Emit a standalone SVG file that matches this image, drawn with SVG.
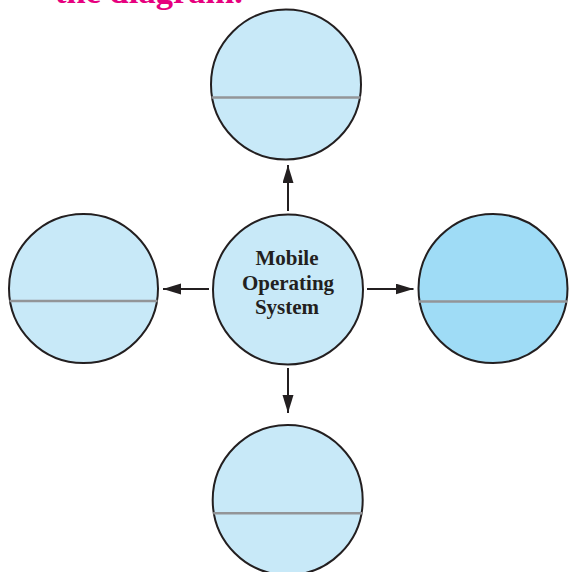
<svg xmlns="http://www.w3.org/2000/svg" width="569" height="572" viewBox="0 0 569 572">
<defs>
<style>
.c{fill:#c8e9f8;stroke:#231f20;stroke-width:2}
.d{fill:#9fdcf6;stroke:#231f20;stroke-width:2}
.h{stroke:#939598;stroke-width:2.5}
.a{stroke:#231f20;stroke-width:2;fill:none}
.t{font-family:"Liberation Serif","Times New Roman",serif;font-weight:bold;font-size:21px;fill:#231f20;text-anchor:middle}
.title{font-family:"Liberation Serif","Times New Roman",serif;font-weight:bold;font-size:34.5px;fill:#e6007e}
</style>
<marker id="ah" markerUnits="userSpaceOnUse" markerWidth="18" markerHeight="12" refX="18" refY="5.5" orient="auto">
<path d="M0,0 L18,5.5 L0,11 z" fill="#231f20"/>
</marker>
</defs>
<rect width="569" height="572" fill="#ffffff"/>
<text class="title" x="55" y="3">the diagram.</text>
<g id="connectors">
<line class="a" x1="288" y1="211" x2="288" y2="165" marker-end="url(#ah)"/>
<line class="a" x1="209" y1="289" x2="163" y2="289" marker-end="url(#ah)"/>
<line class="a" x1="367" y1="289" x2="413.5" y2="289" marker-end="url(#ah)"/>
<line class="a" x1="288" y1="368" x2="288" y2="413" marker-end="url(#ah)"/>
</g>
<g id="center">
<circle class="c" cx="288" cy="289.5" r="75"/>
<text class="t" x="287" y="265">Mobile</text>
<text class="t" x="288" y="289.5">Operating</text>
<text class="t" x="287" y="314">System</text>
</g>
<g id="top">
<circle class="c" cx="286" cy="84.5" r="75"/>
<line class="h" x1="211.5" y1="97.5" x2="360.5" y2="97.5"/>
</g>
<g id="left">
<circle class="c" cx="83.5" cy="288.5" r="74.5"/>
<line class="h" x1="9.5" y1="301" x2="157.5" y2="301"/>
</g>
<g id="right">
<circle class="d" cx="493" cy="288.5" r="74.5"/>
<line class="h" x1="419" y1="301.5" x2="567" y2="301.5"/>
</g>
<g id="bottom">
<circle class="c" cx="287.7" cy="500" r="75"/>
<line class="h" x1="213.2" y1="513.3" x2="362.2" y2="513.3"/>
</g>
</svg>
